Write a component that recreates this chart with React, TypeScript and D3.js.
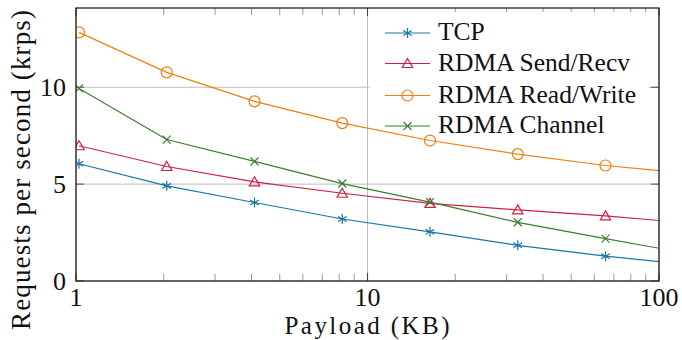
import * as d3 from "d3";
import React, { useEffect, useRef } from "react";

// payload in KB (1024 bytes based), last point sits beyond the axis end and is clipped
const payloads = [1.024, 2.048, 4.096, 8.192, 16.384, 32.768, 65.536, 131.072];
const tcp = [6.05, 4.91, 4.05, 3.2, 2.54, 1.84, 1.28, 0.82];
const sendRecv = [6.98, 5.91, 5.12, 4.53, 4.01, 3.67, 3.36, 2.97];
const readWrite = [12.83, 10.77, 9.27, 8.15, 7.25, 6.55, 5.96, 5.53];
const channel = [9.94, 7.3, 6.17, 5.03, 4.07, 3.03, 2.19, 1.37];

const seriesNames = ["TCP", "RDMA Send/Recv", "RDMA Read/Write", "RDMA Channel"];
const seriesMarks = ["asterisk", "triangle", "circle", "x"];
const seriesColors = ["#1b76a8", "#cf1f45", "#f27d0c", "#3b7f2e"];

const xTicks = [1, 10, 100];
const yTicks = [0, 5, 10];

const FONT = "Liberation Serif, Tinos, Times New Roman, Noto Serif, DejaVu Serif, FreeSerif, serif";

function drawMark(g: any, kind: string, x: number, y: number, color: string) {
  if (kind === "circle") {
    g.append("circle")
      .attr("cx", x)
      .attr("cy", y)
      .attr("r", 5.5)
      .attr("fill", "none")
      .attr("stroke", color)
      .attr("stroke-width", 1.2);
  } else if (kind === "triangle") {
    const r = 6;
    const pts = [0, 1, 2].map((i) => {
      const a = -Math.PI / 2 + (i * 2 * Math.PI) / 3;
      return [x + r * Math.cos(a), y + r * Math.sin(a) + 1];
    });
    g.append("polygon")
      .attr("points", pts.map((p) => p.join(",")).join(" "))
      .attr("fill", "none")
      .attr("stroke", color)
      .attr("stroke-width", 1.2);
  } else if (kind === "x") {
    const r = 4;
    g.append("path")
      .attr("d", `M${x - r},${y - r}L${x + r},${y + r}M${x - r},${y + r}L${x + r},${y - r}`)
      .attr("stroke", color)
      .attr("stroke-width", 1.2);
  } else {
    const r = 5;
    let d = "";
    [90, 30, 150].forEach((deg) => {
      const a = (deg * Math.PI) / 180;
      const dx = r * Math.cos(a);
      const dy = r * Math.sin(a);
      d += `M${x - dx},${y - dy}L${x + dx},${y + dy}`;
    });
    g.append("path").attr("d", d).attr("stroke", color).attr("stroke-width", 1.2);
  }
}

export default function App() {
  const ref = useRef<SVGSVGElement>(null);

  useEffect(() => {
    const svg = d3.select(ref.current);
    svg.selectAll("*").remove();

    const left = 76;
    const right = 659;
    const top = 8;
    const bottom = 281;

    const xScale = d3.scaleLog().domain([1, 100]).range([left, right]);
    const yScale = d3.scaleLinear().domain([0, 14.09]).range([bottom, top]);

    svg
      .append("defs")
      .append("clipPath")
      .attr("id", "plot-clip")
      .append("rect")
      .attr("x", left)
      .attr("y", top)
      .attr("width", right - left)
      .attr("height", bottom - top);

    // grid
    const grid = svg.append("g");
    yTicks.forEach((t) => {
      grid
        .append("line")
        .attr("x1", left)
        .attr("x2", right)
        .attr("y1", yScale(t))
        .attr("y2", yScale(t))
        .attr("stroke", "#bdbdbd")
        .attr("stroke-width", 1);
    });
    xTicks.forEach((t) => {
      grid
        .append("line")
        .attr("x1", xScale(t))
        .attr("x2", xScale(t))
        .attr("y1", top)
        .attr("y2", bottom)
        .attr("stroke", "#bdbdbd")
        .attr("stroke-width", 1);
    });

    // minor x ticks
    const minor: number[] = [];
    [1, 10].forEach((dec) => {
      for (let k = 2; k <= 9; k++) minor.push(dec * k);
    });
    const ticks = svg.append("g");
    minor.forEach((t) => {
      [bottom, top].forEach((yy, i) => {
        ticks
          .append("line")
          .attr("x1", xScale(t))
          .attr("x2", xScale(t))
          .attr("y1", yy)
          .attr("y2", i === 0 ? yy - 7 : yy + 7)
          .attr("stroke", "#9a9a9a")
          .attr("stroke-width", 1);
      });
    });
    xTicks.forEach((t) => {
      [bottom, top].forEach((yy, i) => {
        ticks
          .append("line")
          .attr("x1", xScale(t))
          .attr("x2", xScale(t))
          .attr("y1", yy)
          .attr("y2", i === 0 ? yy - 8 : yy + 8)
          .attr("stroke", "#444")
          .attr("stroke-width", 1.1);
      });
    });
    yTicks.forEach((t) => {
      [left, right].forEach((xx, i) => {
        ticks
          .append("line")
          .attr("x1", xx)
          .attr("x2", i === 0 ? xx + 8 : xx - 8)
          .attr("y1", yScale(t))
          .attr("y2", yScale(t))
          .attr("stroke", "#555")
          .attr("stroke-width", 1.1);
      });
    });

    // legend background
    svg
      .append("rect")
      .attr("x", 369.5)
      .attr("y", 12)
      .attr("width", 279)
      .attr("height", 128)
      .attr("fill", "white");

    // series
    const allSeries = [tcp, sendRecv, readWrite, channel];
    const line = d3
      .line<number>()
      .x((_, i) => xScale(payloads[i]))
      .y((d) => yScale(d));

    const plot = svg.append("g").attr("clip-path", "url(#plot-clip)");
    allSeries.forEach((vals, si) => {
      plot
        .append("path")
        .datum(vals)
        .attr("d", line)
        .attr("fill", "none")
        .attr("stroke", seriesColors[si])
        .attr("stroke-width", 1.2);
    });
    allSeries.forEach((vals, si) => {
      vals.forEach((v, i) => {
        if (payloads[i] > 100) return;
        drawMark(plot, seriesMarks[si], xScale(payloads[i]), yScale(v), seriesColors[si]);
      });
    });

    // frame
    svg
      .append("rect")
      .attr("x", left)
      .attr("y", top)
      .attr("width", right - left)
      .attr("height", bottom - top)
      .attr("fill", "none")
      .attr("stroke", "#222")
      .attr("stroke-width", 1.3);

    // tick labels
    const labels = svg.append("g").style("font-family", FONT).attr("font-size", 26).attr("fill", "#111");
    xTicks.forEach((t) => {
      labels
        .append("text")
        .attr("x", xScale(t))
        .attr("y", 306)
        .attr("text-anchor", "middle")
        .text(t);
    });
    yTicks.forEach((t) => {
      labels
        .append("text")
        .attr("x", 66)
        .attr("y", yScale(t) + 9)
        .attr("text-anchor", "end")
        .text(t);
    });

    // axis labels
    svg
      .append("text")
      .attr("x", 367)
      .attr("y", 334)
      .attr("text-anchor", "middle")
      .style("font-family", FONT)
      .attr("font-size", 25)
      .attr("textLength", 165)
      .attr("fill", "#111")
      .text("Payload (KB)");

    svg
      .append("text")
      .attr("transform", "translate(30,170) rotate(-90)")
      .attr("text-anchor", "middle")
      .style("font-family", FONT)
      .attr("font-size", 27)
      .attr("textLength", 320)
      .attr("fill", "#111")
      .text("Requests per second (krps)");

    // legend
    const rows = [33, 63.5, 95.5, 126];
    const legend = svg.append("g");
    seriesNames.forEach((name, i) => {
      legend
        .append("line")
        .attr("x1", 385)
        .attr("x2", 430)
        .attr("y1", rows[i])
        .attr("y2", rows[i])
        .attr("stroke", seriesColors[i])
        .attr("stroke-width", 1.2);
      drawMark(legend, seriesMarks[i], 407.5, rows[i], seriesColors[i]);
      legend
        .append("text")
        .attr("x", 438)
        .attr("y", rows[i] + 7)
        .style("font-family", FONT)
        .attr("font-size", 25.5)
        .attr("fill", "#111")
        .text(name);
    });
  }, []);

  return (
    <div style={{ position: "absolute", left: 0, top: 0 }}>
      <svg ref={ref} width={682} height={340} style={{ display: "block", background: "white" }} />
    </div>
  );
}
